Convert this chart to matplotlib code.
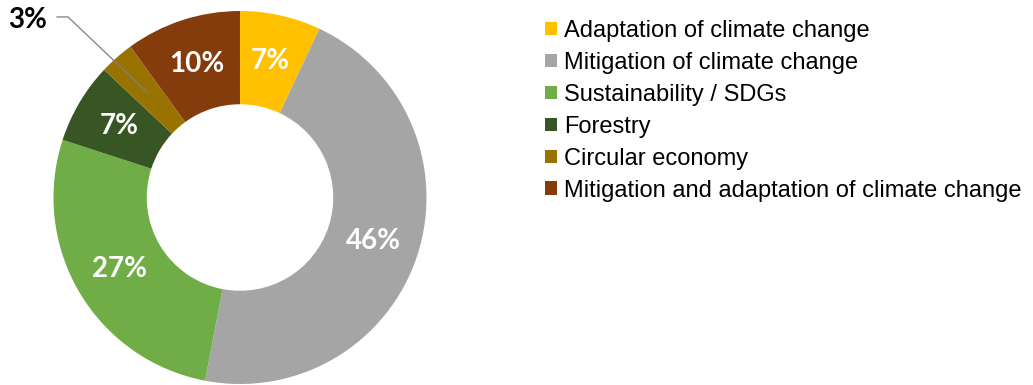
import matplotlib.pyplot as plt
from matplotlib.patches import Patch

categories = [
    "Adaptation of climate change",
    "Mitigation of climate change",
    "Sustainability / SDGs",
    "Forestry",
    "Circular economy",
    "Mitigation and adaptation of climate change",
]
shares = [7, 46, 27, 7, 3, 10]
colors = ["#FFC000", "#A5A5A5", "#70AD47", "#375623", "#997300", "#843C0C"]

W, H = 1033, 385
fig = plt.figure(figsize=(W / 100, H / 100), dpi=100)

# donut centred at (240, 197.5) px, outer radius 186.5 px
cx, cy, r = 240, 197.5, 186.5
ax = fig.add_axes([(cx - r) / W, (H - cy - r) / H, 2 * r / W, 2 * r / H])

label_font = dict(fontsize=20, fontweight="bold", family=["Lato", "DejaVu Sans"])

wedges, texts, autotexts = ax.pie(
    shares, colors=colors, startangle=90, counterclock=False, radius=1,
    wedgeprops=dict(width=0.5, linewidth=0),
    autopct=lambda p: f"{p:.0f}%", pctdistance=0.75,
    textprops=dict(color="white", **label_font),
)
ax.set_xlim(-1, 1)
ax.set_ylim(-1, 1)
ax.set_aspect("equal")
ax.axis("off")

# small slice: label outside with a leader line
i_small = shares.index(3)
tx, ty = autotexts[i_small].get_position()
autotexts[i_small].set_visible(False)
ax.plot([-0.981, -0.922, tx], [0.968, 0.968, ty], color="#7F7F7F", lw=0.9,
        clip_on=False)
ax.text(-1.137, 0.952, f"{shares[i_small]}%", color="black",
        ha="center", va="center", clip_on=False, **label_font)

handles = [Patch(facecolor=c, edgecolor="none") for c in colors]
fig.legend(handles, categories, loc="upper left",
           bbox_to_anchor=(545 / W, 1 - 20 / H), frameon=False,
           prop=dict(family="Liberation Sans", size=17),
           handlelength=0.5, handleheight=0.5, handletextpad=0.3,
           labelspacing=0.42, borderaxespad=0, borderpad=0)

fig.savefig("out.png", dpi=100)
